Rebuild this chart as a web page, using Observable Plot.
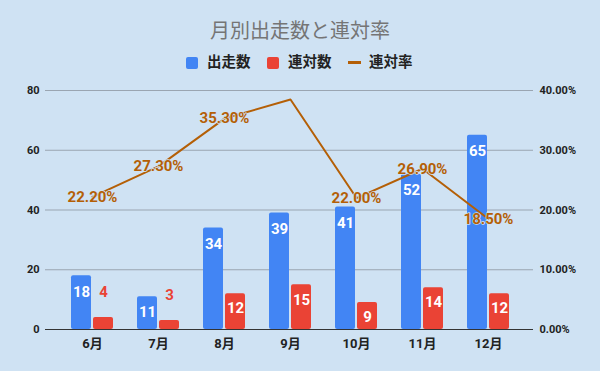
<!DOCTYPE html>
<html>
<head>
<meta charset="utf-8">
<script src="https://cdn.jsdelivr.net/npm/d3@7"></script>
<script src="https://cdn.jsdelivr.net/npm/@observablehq/plot@0.6"></script>
<style>
  html, body { margin: 0; padding: 0; background: #cfe2f3; }
  body { width: 600px; height: 371px; overflow: hidden; font-family: Roboto, "Noto Sans CJK JP", sans-serif; }
  #hdr { position: relative; height: 78px; }
  #hdr .t { position: absolute; left: 210px; top: 18.5px; font-size: 20px; line-height: 24px; color: #757575; white-space: nowrap; }
  #hdr .lg { position: absolute; top: 54.5px; font-size: 14.5px; line-height: 16px; font-weight: bold; color: #222; white-space: nowrap; }
  #hdr .sw { position: absolute; top: 57px; width: 12px; height: 12px; border-radius: 2px; }
  #hdr .ln { position: absolute; top: 61px; width: 13px; height: 3px; background: #b45f06; }
  #chart svg { display: block; }
</style>
</head>
<body>
<div id="hdr">
  <div class="t">月別出走数と連対率</div>
  <div class="sw" style="left:186px;background:#4285f4"></div>
  <div class="lg" style="left:207px">出走数</div>
  <div class="sw" style="left:267px;background:#ea4335"></div>
  <div class="lg" style="left:288px">連対数</div>
  <div class="ln" style="left:348px"></div>
  <div class="lg" style="left:369px">連対率</div>
</div>
<div id="chart"></div>
<script>
const months = ["6月", "7月", "8月", "9月", "10月", "11月", "12月"];
const starts = [18, 11, 34, 39, 41, 52, 65];
const placings = [4, 3, 12, 15, 9, 14, 12];
const rates = [22.2, 27.3, 35.3, 38.5, 22.0, 26.9, 18.5];
const rateLabels = ["22.20%", "27.30%", "35.30%", "", "22.00%", "26.90%", "18.50%"];
const leftTicks = [0, 20, 40, 60, 80];
const rightTickLabels = ["0.00%", "10.00%", "20.00%", "30.00%", "40.00%"];

const data = months.map((m, i) => ({
  month: m, starts: starts[i], placings: placings[i], rate: rates[i], rateLabel: rateLabels[i]
}));

const BLUE = "#4285f4", RED = "#ea4335", ORANGE = "#b45f06", BG = "#cfe2f3";

const chart = Plot.plot({
  width: 600,
  height: 293,
  marginTop: 12,
  marginBottom: 42,
  marginLeft: 45,
  marginRight: 67,
  style: { background: "transparent", fontFamily: 'Roboto, "Noto Sans CJK JP", sans-serif', fontSize: "11px", color: "#222" },
  x: { domain: months, range: [56.75, 522.25], paddingInner: 0.368, paddingOuter: 0.184, label: null },
  y: { domain: [0, 80], label: null },
  marks: [
    Plot.ruleY(leftTicks.filter(d => d > 0), { stroke: "#9aa5b1", strokeWidth: 1 }),
    Plot.axisY({ ticks: leftTicks, tickSize: 0, tickPadding: 6, fontWeight: "bold", fill: "#222", label: null }),
    Plot.axisY({ anchor: "right", ticks: leftTicks, tickFormat: d => rightTickLabels[leftTicks.indexOf(d)], tickSize: 0, tickPadding: 6, fontWeight: "bold", fill: "#222", label: null }),
    Plot.axisX({ tickSize: 0, tickPadding: 9, fontWeight: "bold", fontSize: 13, fill: "#222", label: null }),
    Plot.barY(data, { x: "month", y: "starts", fill: BLUE, insetRight: 22, rx: 2 }),
    Plot.barY(data, { x: "month", y: "placings", fill: RED, insetLeft: 22, rx: 2 }),
    Plot.ruleY([0], { stroke: "#333", strokeWidth: 1 }),
    Plot.text(data, { x: "month", y: "starts", text: d => String(d.starts), dx: -11, dy: 16, fill: "white", fontWeight: "bold", fontSize: 15 }),
    Plot.text(data.filter(d => d.placings >= 6), { x: "month", y: "placings", text: d => String(d.placings), dx: 11, dy: 15, fill: "white", fontWeight: "bold", fontSize: 15 }),
    Plot.text(data.filter(d => d.placings < 6), { x: "month", y: "placings", text: d => String(d.placings), dx: 11, dy: -25, fill: RED, fontWeight: "bold", fontSize: 15 }),
    Plot.lineY(data, { x: "month", y: d => d.rate * 2, stroke: ORANGE, strokeWidth: 2 }),
    Plot.text(data.filter(d => d.rateLabel), { x: "month", y: d => d.rate * 2, text: "rateLabel", fill: ORANGE, fontWeight: "bold", fontSize: 15, stroke: BG, strokeWidth: 1.5, paintOrder: "stroke" })
  ]
});
document.getElementById("chart").appendChild(chart);
</script>
</body>
</html>
